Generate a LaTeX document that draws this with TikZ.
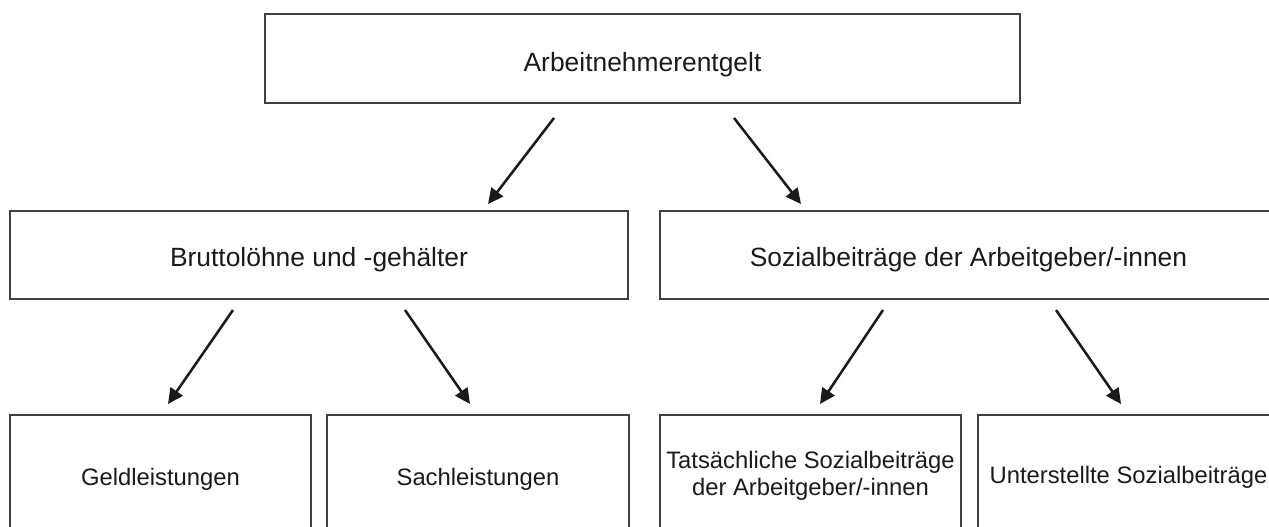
\documentclass[tikz,border=0pt]{standalone}
\usepackage{fontspec}
\setmainfont{Liberation Sans}
\usetikzlibrary{arrows.meta}
\definecolor{boxline}{HTML}{404040}
\definecolor{arrline}{HTML}{1A1A1A}
\definecolor{txt}{HTML}{1A1A1A}
\begin{document}
\begin{tikzpicture}[x=0.75pt,y=-0.75pt,
  box/.style={draw=boxline,line width=1.2pt,inner sep=0pt,fill=none},
  bigtxt/.style={text=txt,font=\fontsize{19.8pt}{24pt}\selectfont,inner sep=0pt,anchor=base},
  smalltxt/.style={text=txt,font=\fontsize{17.85pt}{20.25pt}\selectfont,inner sep=0pt,anchor=base,align=center},
  arr/.style={draw=arrline,line width=1.9pt,-{Triangle[length=11.5pt,width=11pt]}}]
\useasboundingbox (0,0) rectangle (1269,526);
\clip (0,0) rectangle (1269,526);
% boxes
\node[box,minimum width=755*0.75pt,minimum height=89*0.75pt] (top) at (642.5,58.5) {};
\node[box,minimum width=618*0.75pt,minimum height=88*0.75pt] (brutto) at (319,255) {};
\node[box,minimum width=618*0.75pt,minimum height=88*0.75pt] (sozial) at (969,255) {};
\node[box,minimum width=301*0.75pt,minimum height=160*0.75pt] (geld) at (160.5,495) {};
\node[box,minimum width=302*0.75pt,minimum height=160*0.75pt] (sach) at (478,495) {};
\node[box,minimum width=301*0.75pt,minimum height=160*0.75pt] (tats) at (810.5,495) {};
\node[box,minimum width=301*0.75pt,minimum height=160*0.75pt] (unter) at (1128.5,495) {};
% texts
\node[bigtxt] (toptxt) at (642.5,71) {Arbeitnehmerentgelt};
\node[bigtxt] (bruttotxt) at (319,266) {Bruttolöhne und -gehälter};
\node[bigtxt] (sozialtxt) at (968.5,266) {Sozialbeiträge der Arbeitgeber/-innen};
\node[smalltxt] (geldtxt) at (160.5,485) {Geldleistungen};
\node[smalltxt] (sachtxt) at (478,485) {Sachleistungen};
\node[smalltxt] (tatstxt) at (810.5,495) {Tatsächliche Sozialbeiträge\\der Arbeitgeber/-innen};
\node[smalltxt] (untertxt) at (1128.5,483) {Unterstellte Sozialbeiträge};
% arrow end points
\coordinate (a1s) at (554,118); \coordinate (a1e) at (488,204);
\coordinate (a2s) at (734,118); \coordinate (a2e) at (801,204);
\coordinate (b1s) at (233,310); \coordinate (b1e) at (168,404);
\coordinate (b2s) at (405,310); \coordinate (b2e) at (470,404);
\coordinate (c1s) at (883,310); \coordinate (c1e) at (820,404);
\coordinate (c2s) at (1056,310); \coordinate (c2e) at (1121,404);
\draw[arr] (a1s) -- (a1e);
\draw[arr] (a2s) -- (a2e);
\draw[arr] (b1s) -- (b1e);
\draw[arr] (b2s) -- (b2e);
\draw[arr] (c1s) -- (c1e);
\draw[arr] (c2s) -- (c2e);
\end{tikzpicture}
\end{document}
